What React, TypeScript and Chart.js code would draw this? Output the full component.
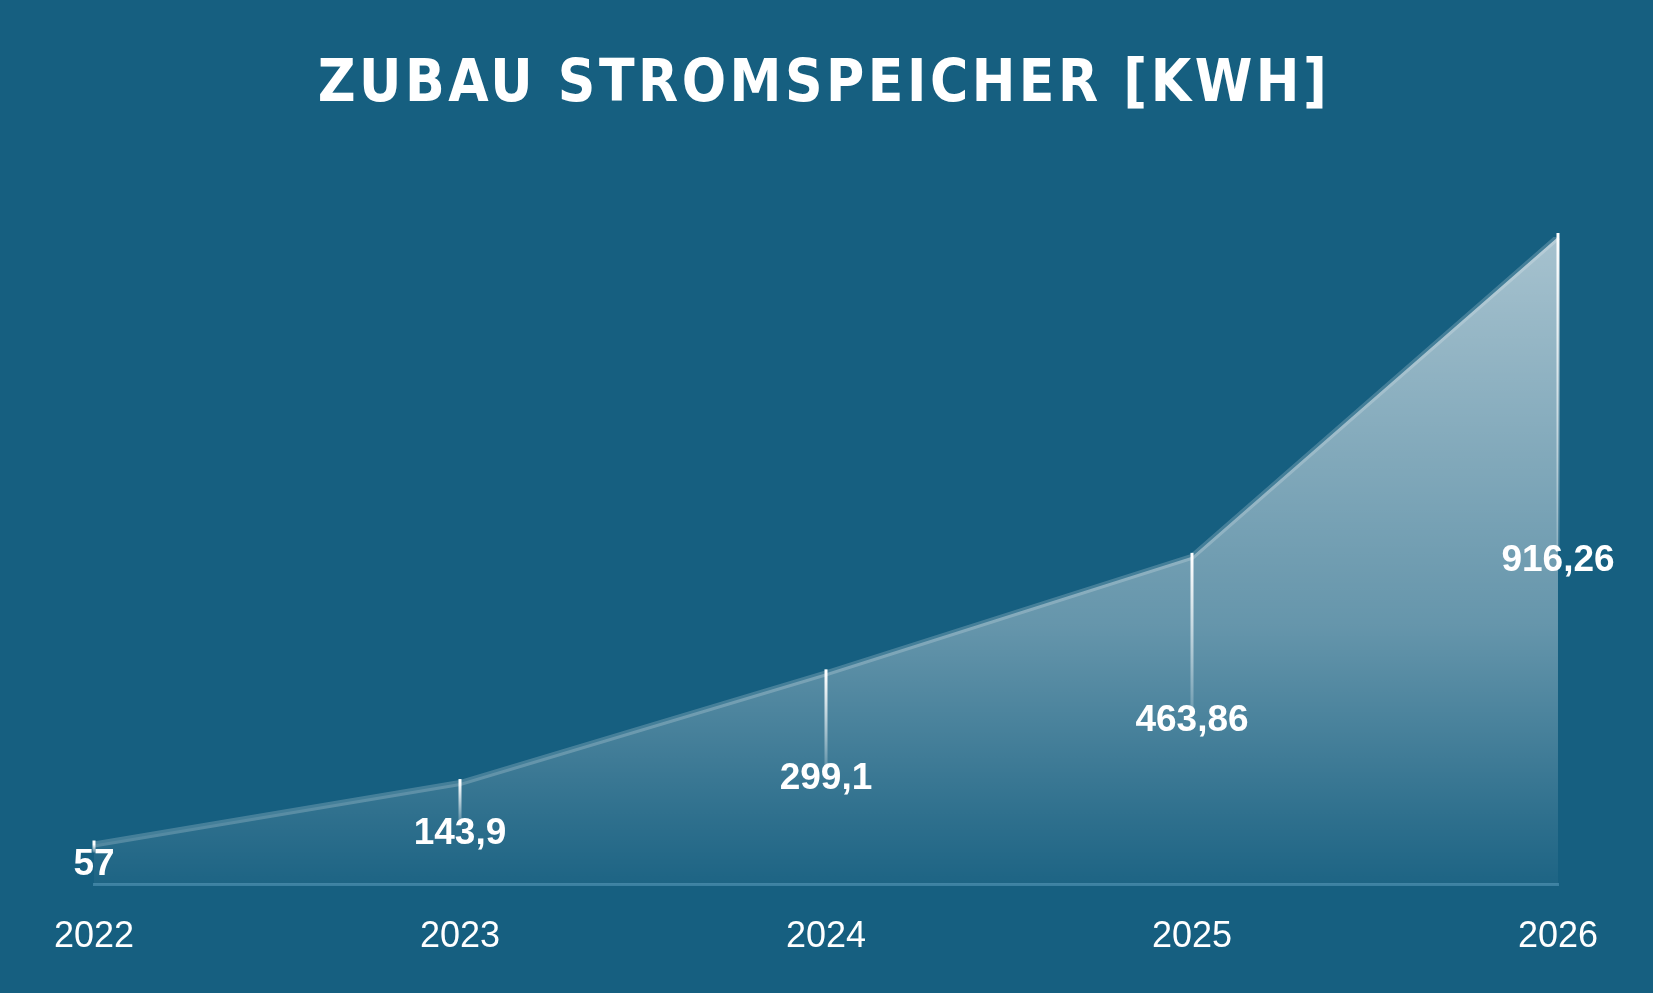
import React, { useEffect, useRef } from "react";
import { Chart, registerables } from "chart.js";

Chart.register(...registerables);

const years = ["2022", "2023", "2024", "2025", "2026"];
const storageKWh = [57, 143.9, 299.1, 463.86, 916.26];
const titleText = "ZUBAU STROMSPEICHER [KWH]";

const BG = "#165f80";

const bgPlugin = {
  id: "bgPlugin",
  beforeDraw(chart: any) {
    const { ctx, width, height } = chart;
    ctx.save();
    ctx.fillStyle = BG;
    ctx.fillRect(0, 0, width, height);
    ctx.restore();
  },
};

const titlePlugin = {
  id: "titlePlugin",
  afterDraw(chart: any) {
    const { ctx } = chart;
    ctx.save();
    ctx.font = "bold 58px 'DejaVu Sans Condensed', 'Liberation Sans Narrow', sans-serif";
    (ctx as any).letterSpacing = "3.5px";
    ctx.fillStyle = "#ffffff";
    ctx.textAlign = "center";
    ctx.textBaseline = "middle";
    ctx.fillText(titleText, 824, 86);
    ctx.restore();
  },
};

const valueLabelPlugin = {
  id: "valueLabelPlugin",
  afterDatasetsDraw(chart: any) {
    const { ctx } = chart;
    const meta = chart.getDatasetMeta(0);
    const yScale = chart.scales.y;
    const values = chart.data.datasets[0].data as number[];
    ctx.save();
    meta.data.forEach((pt: any, i: number) => {
      const v = values[i];
      const x = pt.x;
      const y = pt.y;
      const labelY = yScale.getPixelForValue(v / 2);
      const lineEnd = labelY - 12;
      if (lineEnd > y) {
        const g = ctx.createLinearGradient(0, y, 0, lineEnd);
        g.addColorStop(0, "rgba(255,255,255,1)");
        g.addColorStop(1, "rgba(255,255,255,0.2)");
        ctx.strokeStyle = g;
        ctx.lineWidth = 3;
        ctx.beginPath();
        ctx.moveTo(x, y - 4);
        ctx.lineTo(x, lineEnd);
        ctx.stroke();
      }
      ctx.font = "bold 37px 'Liberation Sans', Arial, sans-serif";
      ctx.fillStyle = "#ffffff";
      ctx.textAlign = "center";
      ctx.textBaseline = "middle";
      ctx.fillText(String(v).replace(".", ","), x, labelY);
    });
    ctx.restore();
  },
};

export default function App() {
  const canvasRef = useRef<HTMLCanvasElement | null>(null);

  useEffect(() => {
    document.body.style.margin = "0";
    document.body.style.background = BG;
    const canvas = canvasRef.current;
    if (!canvas) return;
    const chart = new Chart(canvas, {
      type: "line",
      data: {
        labels: years,
        datasets: [
          {
            data: storageKWh,
            tension: 0,
            pointRadius: 0,
            borderWidth: 6,
            borderColor: "rgba(255,255,255,0.2)",
            fill: "origin",
            backgroundColor: (context: any) => {
              const area = context.chart.chartArea;
              if (!area) return "rgba(255,255,255,0.3)";
              const g = context.chart.ctx.createLinearGradient(0, area.top, 0, area.bottom);
              g.addColorStop(0, "rgba(255,255,255,0.62)");
              g.addColorStop(0.6, "rgba(255,255,255,0.34)");
              g.addColorStop(0.9, "rgba(255,255,255,0.1)");
              g.addColorStop(1, "rgba(255,255,255,0.03)");
              return g;
            },
          },
        ],
      },
      options: {
        animation: false,
        responsive: true,
        maintainAspectRatio: false,
        layout: { padding: { top: 237, left: 94, right: 95, bottom: 3 } },
        plugins: {
          legend: { display: false },
          title: { display: false },
          tooltip: { enabled: false },
        },
        scales: {
          x: {
            offset: false,
            grid: { display: false, drawTicks: false },
            border: { display: true, color: "#3b80a1", width: 3 },
            ticks: {
              color: "#ffffff",
              padding: 31,
              font: { family: "'Liberation Sans', Arial, sans-serif", size: 36 },
              maxRotation: 0,
            },
          },
          y: {
            display: false,
            min: 0,
            max: 916.26,
          },
        },
      },
      plugins: [bgPlugin, valueLabelPlugin, titlePlugin],
    });
    return () => chart.destroy();
  }, []);

  return (
    <div style={{ width: 1653, height: 993, background: BG, position: "relative" }}>
      <canvas ref={canvasRef} />
    </div>
  );
}
